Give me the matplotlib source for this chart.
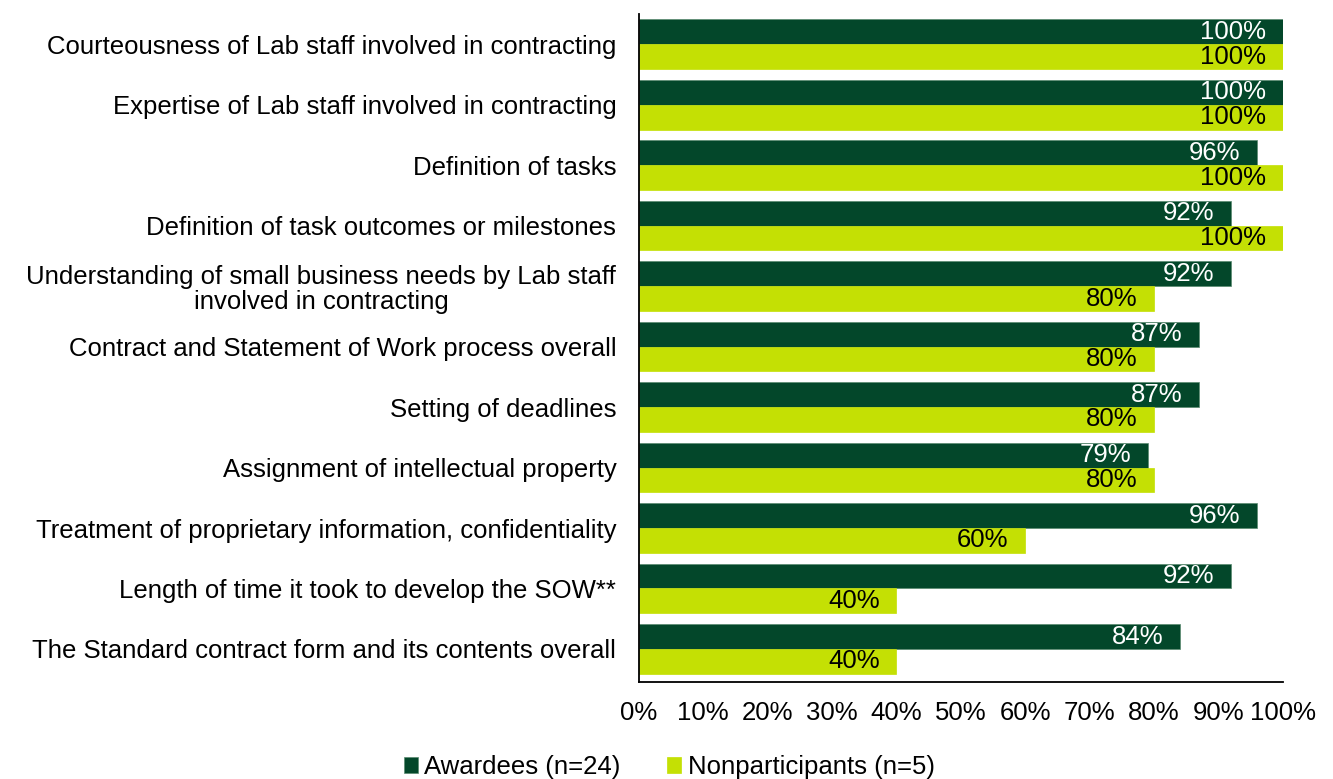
import matplotlib
matplotlib.use("Agg")
import matplotlib.pyplot as plt
import numpy as np

plt.rcParams['font.family'] = ['Liberation Sans', 'DejaVu Sans']

categories = [
    "Courteousness of Lab staff involved in contracting",
    "Expertise of Lab staff involved in contracting",
    "Definition of tasks",
    "Definition of task outcomes or milestones",
    "Understanding of small business needs by Lab staff\ninvolved in contracting",
    "Contract and Statement of Work process overall",
    "Setting of deadlines",
    "Assignment of intellectual property",
    "Treatment of proprietary information, confidentiality",
    "Length of time it took to develop the SOW**",
    "The Standard contract form and its contents overall",
]
awardees = [100, 100, 96, 92, 92, 87, 87, 79, 96, 92, 84]
nonparticipants = [100, 100, 100, 100, 80, 80, 80, 80, 60, 40, 40]
series_names = ["Awardees (n=24)", "Nonparticipants (n=5)"]
xticks = [0, 10, 20, 30, 40, 50, 60, 70, 80, 90, 100]

dark = "#03472A"
lime = "#C4E004"
FS = 18.5

fig = plt.figure(figsize=(13.33, 7.79), dpi=100)
ax = fig.add_axes([0.479, 0.125, 0.4835, 0.857])

n = len(categories)
y = np.arange(n)
h = 0.41
b1 = ax.barh(y - h / 2, awardees, height=h, color=dark, edgecolor="#5a8a70", linewidth=0.5)
b2 = ax.barh(y + h / 2, nonparticipants, height=h, color=lime, edgecolor=lime, linewidth=0.5)

for rect, v in zip(b1, awardees):
    ax.text(rect.get_width() - 2.6, rect.get_y() + rect.get_height() / 2 + 0.0, f"{v}%",
            ha="right", va="center", color="white", fontsize=FS)
for rect, v in zip(b2, nonparticipants):
    ax.text(rect.get_width() - 2.6, rect.get_y() + rect.get_height() / 2 + 0.0, f"{v}%",
            ha="right", va="center", color="black", fontsize=FS)

ax.set_ylim(n - 0.5 + 0.04, -0.5)
ax.set_xlim(0, 100)
ax.set_yticks(y)
ax.set_yticklabels(categories, fontsize=FS)
for lab in ax.get_yticklabels():
    lab.set_multialignment("center")
    lab.set_linespacing(1.05)
ax.set_xticks(xticks)
ax.set_xticklabels([f"{t}%" for t in xticks], fontsize=FS)
ax.tick_params(axis="both", length=0)
ax.tick_params(axis="x", pad=14)
ax.tick_params(axis="y", pad=16)
ax.spines["top"].set_visible(False)
ax.spines["right"].set_visible(False)
ax.spines["left"].set_linewidth(1.3)
ax.spines["bottom"].set_linewidth(1.3)

leg = fig.legend([b1, b2], series_names, loc="lower center", bbox_to_anchor=(0.502, -0.03),
                 ncol=2, frameon=False, fontsize=FS, handlelength=0.55, handleheight=0.55,
                 handletextpad=0.25, columnspacing=1.8)

fig.savefig("out.png", dpi=100)
